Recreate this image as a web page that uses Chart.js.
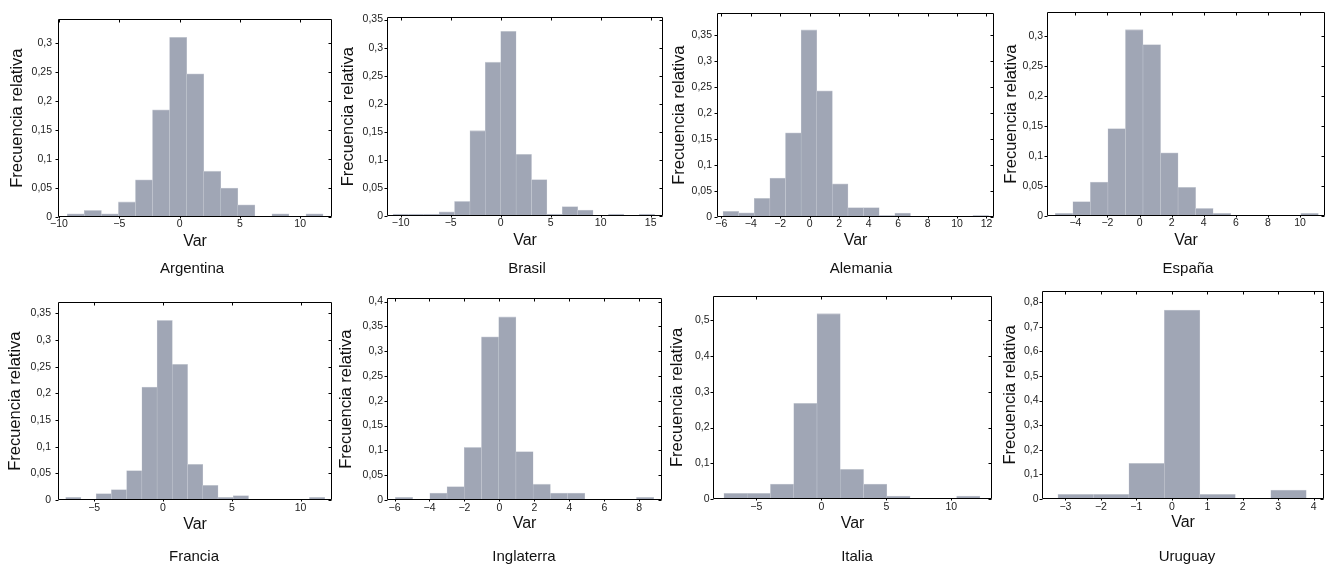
<!DOCTYPE html>
<html><head><meta charset="utf-8">
<script src="https://cdn.jsdelivr.net/npm/chart.js@4.4.1/dist/chart.umd.min.js"></script>
<style>
html,body{margin:0;padding:0;background:#fff;}
#wrap{position:relative;width:1334px;height:564px;overflow:hidden;background:#fff;}
canvas{position:absolute;}
</style></head><body><div id="wrap"></div>
<script>
// ---------- data ----------
const countries = ['Argentina', 'Brasil', 'Alemania', 'España', 'Francia', 'Inglaterra', 'Italia', 'Uruguay'];

const freqArgentina  = [0.0056, 0.0113, 0.0056, 0.026, 0.064, 0.185, 0.310, 0.247, 0.079, 0.050, 0.021, 0, 0.0056, 0, 0.0056];
const freqBrasil     = [0.0035, 0.0035, 0.0035, 0.0076, 0.026, 0.152, 0.274, 0.329, 0.110, 0.065, 0.0035, 0.017, 0.0106, 0, 0.0035, 0, 0.0035];
const freqAlemania   = [0.011, 0.008, 0.036, 0.075, 0.162, 0.360, 0.243, 0.064, 0.018, 0.018, 0.003, 0.0076, 0, 0, 0, 0, 0.003];
const freqEspana     = [0.0044, 0.024, 0.0566, 0.146, 0.311, 0.286, 0.1055, 0.048, 0.0126, 0.0044, 0, 0, 0, 0, 0.0044];
const freqFrancia    = [0.0049, 0, 0.0122, 0.0195, 0.0554, 0.212, 0.337, 0.2546, 0.067, 0.0274, 0.0049, 0.0085, 0, 0, 0, 0, 0.0049];
const freqInglaterra = [0.0053, 0, 0.014, 0.0272, 0.106, 0.329, 0.369, 0.0977, 0.0319, 0.014, 0.014, 0, 0, 0, 0.0053];
const freqItalia     = [0.0157, 0.0157, 0.0417, 0.2676, 0.5185, 0.0833, 0.0417, 0.0083, 0, 0, 0.0083];
const freqUruguay    = [0.019, 0.019, 0.145, 0.767, 0.019, 0, 0.036];
const freqs = [freqArgentina, freqBrasil, freqAlemania, freqEspana, freqFrancia, freqInglaterra, freqItalia, freqUruguay];

// histogram bins: first edge and width (Var units)
const binStart = [-9.31, -10.77, -5.88, -5.25, -7.07, -5.95, -7.49, -3.21];
const binWidth = [1.414, 1.539, 1.06, 1.093, 1.107, 0.985, 1.79, 1.0];

// axis ranges
const xMin = [-10.08, -11.37, -6.29, -5.77, -7.63, -6.43, -8.33, -3.66];
const xMax = [12.64, 16.23, 12.51, 11.56, 12.28, 9.30, 13.13, 4.29];
const yMax = [0.341, 0.354, 0.392, 0.34, 0.371, 0.4066, 0.5685, 0.8456];

// tick values
const xTicks = [
  [-10, -5, 0, 5, 10],
  [-10, -5, 0, 5, 10, 15],
  [-6, -4, -2, 0, 2, 4, 6, 8, 10, 12],
  [-4, -2, 0, 2, 4, 6, 8, 10],
  [-5, 0, 5, 10],
  [-6, -4, -2, 0, 2, 4, 6, 8],
  [-5, 0, 5, 10],
  [-3, -2, -1, 0, 1, 2, 3, 4]
];
const yTicks = [
  [0, 0.05, 0.1, 0.15, 0.2, 0.25, 0.3],
  [0, 0.05, 0.1, 0.15, 0.2, 0.25, 0.3, 0.35],
  [0, 0.05, 0.1, 0.15, 0.2, 0.25, 0.3, 0.35],
  [0, 0.05, 0.1, 0.15, 0.2, 0.25, 0.3],
  [0, 0.05, 0.1, 0.15, 0.2, 0.25, 0.3, 0.35],
  [0, 0.05, 0.1, 0.15, 0.2, 0.25, 0.3, 0.35, 0.4],
  [0, 0.1, 0.2, 0.3, 0.4, 0.5],
  [0, 0.1, 0.2, 0.3, 0.4, 0.5, 0.6, 0.7, 0.8]
];
const xLabel = 'Var';
const yLabel = 'Frecuencia relativa';

// ---------- layout ----------
const panelBox = [
  [58, 15, 332, 217], [387, 15, 663, 216], [717, 10, 994, 217], [1047, 10, 1325, 216],
  [58, 297, 332, 500], [387, 296, 662, 500], [713, 294, 992, 499], [1042, 289, 1324, 499]
];
const yTitleOff = [41, 38.3, 37.7, 36, 43, 40.6, 35.7, 32];
const titleX = [192, 527, 861, 1188, 194, 524, 857, 1187];
const varY = [241.5, 241, 241, 241, 524.5, 524, 524, 523];
const titleBase = [272.5, 561];
const tickPadX = [1, 2];
const tickPadY = [6, 4, 5, 4, 7, 4, 3.5, 3.5];
const LEFT_W = 58, TOP_PAD = 8, RIGHT_PAD = 8;
const FONT = "'Liberation Sans', Arial, Helvetica, sans-serif";
const BAR = 'rgb(160,166,181)';
const BAR_EDGE = 'rgb(200,204,213)';

const fmt = v => {
  if (Math.abs(v) < 1e-9) return '0';
  return String(+Number(v).toFixed(3)).replace('.', ',').replace('-', '\u2212');
};

const framePlugin = {
  id: 'frame',
  afterDraw(chart) {
    const {ctx, chartArea: a, scales: {x, y}} = chart;
    ctx.save();
    ctx.strokeStyle = '#000';
    ctx.lineWidth = 1;
    const l = Math.round(a.left) + 0.5, r = Math.round(a.right) - 0.5;
    const t = Math.round(a.top) + 0.5, b = Math.round(a.bottom) - 0.5;
    ctx.beginPath();
    ctx.rect(l, t, r - l, b - t);
    ctx.stroke();
    ctx.beginPath();
    y.ticks.forEach(tk => {
      const py = Math.round(y.getPixelForValue(tk.value)) + 0.5;
      ctx.moveTo(l - 3, py); ctx.lineTo(l, py);
      ctx.moveTo(r, py); ctx.lineTo(r - 3, py);
    });
    x.ticks.forEach(tk => {
      const px = Math.round(x.getPixelForValue(tk.value)) + 0.5;
      ctx.moveTo(px, b); ctx.lineTo(px, b + 2);
      ctx.moveTo(px, t); ctx.lineTo(px, t + 3);
    });
    ctx.stroke();
    ctx.restore();
  }
};

const nameTitlePlugin = {
  id: 'nameTitle',
  afterDraw(chart, args, opts) {
    const ctx = chart.ctx;
    ctx.save();
    ctx.font = '15px ' + FONT;
    ctx.fillStyle = '#111';
    ctx.textAlign = 'center';
    ctx.textBaseline = 'alphabetic';
    ctx.fillText(opts.text, opts.x, opts.y);
    ctx.restore();
  }
};

const wrap = document.getElementById('wrap');

countries.forEach((name, i) => {
  const [L, T, R, B] = panelBox[i];
  const row = i < 4 ? 0 : 1;
  const cl = L - LEFT_W, ct = T - TOP_PAD;
  const xH = varY[i] - B + 9.6;
  const cw = LEFT_W + (R - L) + RIGHT_PAD;
  const ch = Math.ceil(titleBase[row] + 8 - ct);
  const padBottom = ch - TOP_PAD - (B - T) - xH;

  const canvas = document.createElement('canvas');
  canvas.width = cw; canvas.height = ch;
  canvas.style.left = cl + 'px'; canvas.style.top = ct + 'px';
  canvas.style.width = cw + 'px'; canvas.style.height = ch + 'px';
  wrap.appendChild(canvas);

  const pts = freqs[i].map((f, k) => ({x: binStart[i] + binWidth[i] * (k + 0.5), y: f}));

  new Chart(canvas, {
    type: 'bar',
    data: {
      datasets: [{
        data: pts,
        backgroundColor: BAR,
        borderColor: BAR_EDGE,
        borderWidth: {top: 0.8, left: 0.5, right: 0.5, bottom: 0},
        barPercentage: 1,
        categoryPercentage: 1
      }]
    },
    options: {
      responsive: false,
      animation: false,
      devicePixelRatio: 1,
      events: [],
      layout: {padding: {left: 0, top: TOP_PAD, right: RIGHT_PAD, bottom: padBottom}},
      plugins: {
        legend: {display: false},
        tooltip: {enabled: false},
        title: {display: false},
        nameTitle: {text: name, x: titleX[i] - cl, y: titleBase[row] - ct}
      },
      scales: {
        x: {
          type: 'linear', min: xMin[i], max: xMax[i], offset: false,
          grid: {display: false, drawTicks: false},
          border: {display: false},
          afterBuildTicks: s => { s.ticks = xTicks[i].map(v => ({value: v})); },
          afterFit: s => { s.height = xH; },
          ticks: {
            autoSkip: false, maxRotation: 0, minRotation: 0,
            padding: tickPadX[row],
            font: {family: FONT, size: 10.5}, color: '#222',
            callback: v => fmt(v)
          },
          title: {display: true, text: xLabel, font: {family: FONT, size: 16}, color: '#111', padding: 0}
        },
        y: {
          type: 'linear', min: 0, max: yMax[i],
          grid: {display: false, drawTicks: false},
          border: {display: false},
          afterBuildTicks: s => { s.ticks = yTicks[i].map(v => ({value: v})); },
          afterFit: s => { s.width = LEFT_W; },
          ticks: {
            autoSkip: false,
            padding: tickPadY[i],
            font: {family: FONT, size: 10.5}, color: '#222',
            callback: v => fmt(v)
          },
          title: {
            display: true, text: yLabel, font: {family: FONT, size: 16.5}, color: '#111',
            padding: {top: LEFT_W - yTitleOff[i] - 9.9, bottom: 0}
          }
        }
      }
    },
    plugins: [framePlugin, nameTitlePlugin]
  });
});
</script>
</body></html>
